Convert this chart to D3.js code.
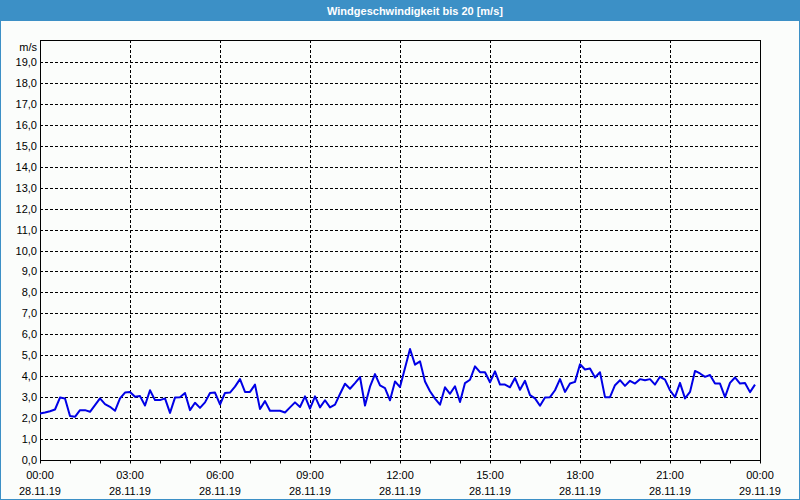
<!DOCTYPE html>
<html>
<head>
<meta charset="utf-8">
<script src="https://cdn.jsdelivr.net/npm/d3@7/dist/d3.min.js"></script>
<style>
html,body{margin:0;padding:0;background:#fbfdfb;}
svg{display:block;}
text{font-family:"Liberation Sans",Arial,sans-serif;}
</style>
</head>
<body>
<svg id="chart" width="800" height="500"></svg>
<script>
const title = "Windgeschwindigkeit bis 20 [m/s]";
const unitLabel = "m/s";
const startTime = "2019-11-28T00:00:00";
const endTime = "2019-11-29T00:00:00";
const stepMinutes = 10;
// wind speed, 10-minute values from 00:00
const windSpeed = [
  2.22,2.27,2.33,2.41,2.98,2.94,2.10,2.06,2.38,2.38,2.30,2.62,
  2.94,2.67,2.54,2.35,2.94,3.22,3.25,3.02,3.05,2.60,3.33,2.86,
  2.86,2.94,2.25,2.98,3.00,3.20,2.38,2.73,2.49,2.75,3.20,3.22,
  2.65,3.20,3.22,3.50,3.86,3.25,3.25,3.60,2.43,2.81,2.35,2.35,
  2.35,2.27,2.51,2.75,2.53,3.04,2.45,3.04,2.51,2.85,2.51,2.64,
  3.15,3.64,3.40,3.67,3.96,2.60,3.50,4.10,3.56,3.43,2.85,3.75,
  3.48,4.39,5.30,4.55,4.71,3.75,3.28,2.93,2.64,3.47,3.16,3.52,
  2.77,3.67,3.83,4.47,4.19,4.19,3.71,4.23,3.60,3.60,3.47,3.91,
  3.35,3.78,3.10,2.94,2.59,2.98,3.00,3.33,3.86,3.25,3.65,3.73,
  4.57,4.32,4.37,3.94,4.19,3.00,3.00,3.57,3.81,3.54,3.78,3.65,
  3.86,3.81,3.86,3.60,3.97,3.84,3.33,3.00,3.68,2.94,3.25,4.25,
  4.13,3.97,4.06,3.65,3.65,3.00,3.68,3.94,3.65,3.68,3.24,3.60
];
const yTicks = d3.range(0, 20, 1);
const xMajorHours = [0,3,6,9,12,15,18,21,24];

const svg = d3.select("#chart");
const W = 800, H = 500;
const margin = {left:40, right:40, top:40, bottom:40};

const t0 = new Date(startTime), t1 = new Date(endTime);
const data = windSpeed.map((v,i)=>({t:new Date(t0.getTime()+i*stepMinutes*60000), v}));

const x = d3.scaleTime().domain([t0,t1]).range([40,760]);
const y = d3.scaleLinear().domain([0,20]).range([460,41]);

// title bar
svg.append("rect").attr("x",0).attr("y",0).attr("width",W).attr("height",21).attr("fill","#3c90c6");
svg.append("rect").attr("x",0.5).attr("y",0.5).attr("width",W-1).attr("height",H-1)
  .attr("fill","none").attr("stroke","#3c90c6");
svg.append("text").attr("x",415).attr("y",15).attr("text-anchor","middle")
  .attr("fill","#fff").attr("font-weight","bold").attr("font-size","11px").text(title);

// horizontal grid
svg.append("g").selectAll("line").data(yTicks.filter(d=>d>0)).join("line")
  .attr("x1",40).attr("x2",760)
  .attr("y1",d=>Math.round(y(d))+0.5).attr("y2",d=>Math.round(y(d))+0.5)
  .attr("stroke","#000").attr("stroke-dasharray","3,2");

// vertical grid
const hourDate = h => new Date(t0.getTime()+h*3600000);
svg.append("g").selectAll("line").data(xMajorHours.filter(h=>h>0&&h<24)).join("line")
  .attr("x1",h=>Math.round(x(hourDate(h)))+0.5).attr("x2",h=>Math.round(x(hourDate(h)))+0.5)
  .attr("y1",40).attr("y2",460)
  .attr("stroke","#000").attr("stroke-dasharray","3,2");

// frame
svg.append("rect").attr("x",40.5).attr("y",40.5).attr("width",720).attr("height",420)
  .attr("fill","none").attr("stroke","#000");

// x axis with hourly ticks
const xAxis = d3.axisBottom(x)
  .ticks(d3.timeHour.every(1))
  .tickSize(3)
  .tickFormat("");
const gx = svg.append("g").attr("transform","translate(0,460.5)").call(xAxis);
gx.select(".domain").remove();
gx.selectAll("line").attr("stroke","#000");

// x labels
const xl = svg.append("g");
xMajorHours.forEach(h=>{
  const d = hourDate(h);
  const px = x(d);
  xl.append("text").attr("x",px).attr("y",479).attr("text-anchor","middle")
    .attr("font-size","11px").attr("fill","#000").text(d3.timeFormat("%H:%M")(d));
  xl.append("text").attr("x",px).attr("y",495).attr("text-anchor","middle")
    .attr("font-size","11px").attr("fill","#000").text(d3.timeFormat("%d.%m.%y")(d));
});

// y labels
svg.append("g").selectAll("text").data(yTicks).join("text")
  .attr("x",37).attr("y",d=>y(d)+4).attr("text-anchor","end")
  .attr("font-size","11px").attr("fill","#000")
  .text(d=>d.toFixed(1).replace(".",","));
svg.append("text").attr("x",37).attr("y",51).attr("text-anchor","end")
  .attr("font-size","11px").attr("fill","#000").text(unitLabel);

// line
const line = d3.line().x(d=>x(d.t)).y(d=>y(d.v));
svg.append("path").datum(data).attr("d",line)
  .attr("fill","none").attr("stroke","#0000e6").attr("stroke-width",2)
  .attr("stroke-linejoin","round");
</script>
</body>
</html>
